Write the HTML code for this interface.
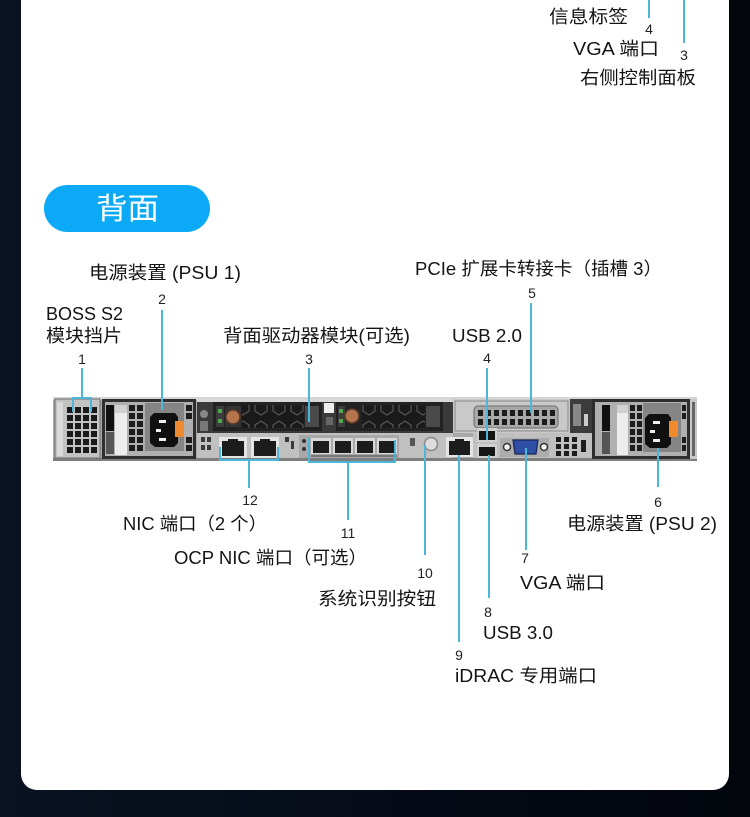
<!DOCTYPE html>
<html><head><meta charset="utf-8"><style>
html,body{margin:0;padding:0;}
body{width:750px;height:817px;overflow:hidden;background:linear-gradient(90deg,#0a1322 0%,#050b17 50%,#02050c 100%);position:relative;}
.card{position:absolute;left:21px;top:-30px;width:708px;height:820px;background:#fff;border-radius:16px;}
svg{position:absolute;left:0;top:0;}
.t{font-family:"Liberation Sans","Noto Sans CJK SC",sans-serif;font-size:18px;fill:#141414;}
.n{font-family:"Liberation Sans","Noto Sans CJK SC",sans-serif;font-size:14px;fill:#222;text-anchor:middle;}
.l{stroke:#4ab6da;stroke-width:2;fill:none;}
</style></head><body>
<div class="card"></div>
<svg width="750" height="817" viewBox="0 0 750 817" xmlns="http://www.w3.org/2000/svg">
<defs>
<pattern id="hx" x="0" y="0" width="18" height="22" patternUnits="userSpaceOnUse">
<rect width="18" height="22" fill="#1a1a1a"/>
<polygon points="9,3 15,7 15,15 9,19 3,15 3,7" fill="none" stroke="#555" stroke-width="1.2"/>
</pattern>
</defs>

<!-- top labels -->
<text class="t" x="549" y="23" font-size="19" textLength="79" lengthAdjust="spacingAndGlyphs">信息标签</text>
<text class="n" x="649" y="34">4</text>
<text class="t" x="573" y="55" font-size="19" textLength="86" lengthAdjust="spacingAndGlyphs">VGA 端口</text>
<text class="n" x="684" y="60">3</text>
<text class="t" x="580" y="84" font-size="19" textLength="116" lengthAdjust="spacingAndGlyphs">右侧控制面板</text>
<path class="l" d="M649 0 V18 M684 0 V43"/>

<!-- button -->
<rect x="44" y="185" width="166" height="47" rx="23.5" fill="#0ba9f6"/>
<text x="96" y="219" font-family="'Liberation Sans','Noto Sans CJK SC',sans-serif" font-size="30" fill="#fff" textLength="63" lengthAdjust="spacingAndGlyphs">背面</text>

<!-- rear labels top -->
<text class="t" x="89" y="279" textLength="152" lengthAdjust="spacingAndGlyphs">电源装置 (PSU 1)</text>
<text class="n" x="162" y="304">2</text>
<text class="t" x="46" y="320" textLength="77" lengthAdjust="spacingAndGlyphs">BOSS S2</text>
<text class="t" x="46" y="342" textLength="76" lengthAdjust="spacingAndGlyphs">模块挡片</text>
<text class="t" x="223" y="342" textLength="187" lengthAdjust="spacingAndGlyphs">背面驱动器模块(可选)</text>
<text class="n" x="82" y="364">1</text>
<text class="n" x="309" y="364">3</text>
<text class="t" x="415" y="275" textLength="247" lengthAdjust="spacingAndGlyphs">PCIe 扩展卡转接卡（插槽 3）</text>
<text class="n" x="532" y="298">5</text>
<text class="t" x="452" y="342" textLength="70" lengthAdjust="spacingAndGlyphs">USB 2.0</text>
<text class="n" x="487" y="363">4</text>

<!-- rear labels bottom -->
<text class="n" x="250" y="505">12</text>
<text class="t" x="123" y="530" textLength="144" lengthAdjust="spacingAndGlyphs">NIC 端口（2 个）</text>
<text class="n" x="348" y="538">11</text>
<text class="t" x="174" y="564" textLength="193" lengthAdjust="spacingAndGlyphs">OCP NIC 端口（可选）</text>
<text class="n" x="425" y="578">10</text>
<text class="t" x="318" y="605" textLength="118" lengthAdjust="spacingAndGlyphs">系统识别按钮</text>
<text class="n" x="658" y="507">6</text>
<text class="t" x="567" y="530" textLength="150" lengthAdjust="spacingAndGlyphs">电源装置 (PSU 2)</text>
<text class="n" x="525" y="563">7</text>
<text class="t" x="520" y="589" textLength="85" lengthAdjust="spacingAndGlyphs">VGA 端口</text>
<text class="n" x="488" y="617">8</text>
<text class="t" x="483" y="639" textLength="70" lengthAdjust="spacingAndGlyphs">USB 3.0</text>
<text class="n" x="459" y="660">9</text>
<text class="t" x="455" y="682" textLength="142" lengthAdjust="spacingAndGlyphs">iDRAC 专用端口</text>

<!-- server chassis -->
<g>
<rect x="53" y="397" width="644" height="64" fill="#a8a8a8"/>
<rect x="53" y="397" width="644" height="3" fill="#d4d4d4"/>
<rect x="53" y="458" width="644" height="3" fill="#7e7e7e"/>

<!-- BOSS blank -->
<rect x="55" y="399" width="45" height="59" fill="#c2c2c2" stroke="#6d6d6d" stroke-width="1"/>
<rect x="57" y="402" width="6" height="54" fill="#dadada"/>
<g fill="#1a1a1a">
<rect x="67" y="407" width="6" height="6"/><rect x="75" y="407" width="6" height="6"/><rect x="83" y="407" width="6" height="6"/><rect x="91" y="407" width="6" height="6"/>
<rect x="67" y="415" width="6" height="6"/><rect x="75" y="415" width="6" height="6"/><rect x="83" y="415" width="6" height="6"/><rect x="91" y="415" width="6" height="6"/>
<rect x="67" y="423" width="6" height="6"/><rect x="75" y="423" width="6" height="6"/><rect x="83" y="423" width="6" height="6"/><rect x="91" y="423" width="6" height="6"/>
<rect x="67" y="431" width="6" height="6"/><rect x="75" y="431" width="6" height="6"/><rect x="83" y="431" width="6" height="6"/><rect x="91" y="431" width="6" height="6"/>
<rect x="67" y="439" width="6" height="6"/><rect x="75" y="439" width="6" height="6"/><rect x="83" y="439" width="6" height="6"/><rect x="91" y="439" width="6" height="6"/>
<rect x="67" y="447" width="6" height="6"/><rect x="75" y="447" width="6" height="6"/><rect x="83" y="447" width="6" height="6"/><rect x="91" y="447" width="6" height="6"/>
</g>

<!-- PSU 1 -->
<rect x="102" y="399" width="94" height="60" fill="#2e2e2e"/>
<rect x="105" y="402" width="88" height="54" fill="#b0b0b0"/>
<rect x="106" y="405" width="8" height="26" fill="#111"/>
<rect x="106" y="432" width="8" height="22" fill="#555"/>
<rect x="115" y="405" width="12" height="50" fill="#ececec"/>
<rect x="115" y="405" width="12" height="8" fill="#d0d0d0"/>
<g fill="#1c1c1c">
<rect x="129" y="405" width="6" height="6"/><rect x="137" y="405" width="6" height="6"/>
<rect x="129" y="413" width="6" height="6"/><rect x="137" y="413" width="6" height="6"/>
<rect x="129" y="421" width="6" height="6"/><rect x="137" y="421" width="6" height="6"/>
<rect x="129" y="429" width="6" height="6"/><rect x="137" y="429" width="6" height="6"/>
<rect x="129" y="437" width="6" height="6"/><rect x="137" y="437" width="6" height="6"/>
<rect x="129" y="445" width="6" height="6"/><rect x="137" y="445" width="6" height="6"/>
<rect x="186" y="405" width="6" height="6"/><rect x="186" y="413" width="6" height="6"/>
<rect x="186" y="437" width="6" height="6"/><rect x="186" y="445" width="6" height="6"/>
</g>
<rect x="145" y="403" width="39" height="48" fill="#858585"/>
<polygon points="154,413 175,413 178,417 178,443 174,447 155,447 150,443 150,417" fill="#101010"/>
<rect x="159" y="420" width="7" height="3" fill="#eee"/>
<rect x="156" y="429" width="5" height="3" fill="#eee"/>
<rect x="159" y="438" width="7" height="3" fill="#eee"/>
<rect x="175" y="421" width="9" height="16" fill="#f08a2e"/>

<!-- middle section -->
<rect x="197" y="399" width="256" height="34" fill="#3a3a3a"/>
<rect x="197" y="399" width="256" height="3" fill="#d8d8d8"/>
<circle cx="204" cy="414" r="4" fill="#888"/>
<rect x="200" y="421" width="8" height="10" fill="#777"/>
<!-- drive 1 -->
<rect x="213" y="402" width="109" height="29" fill="#222"/>
<rect x="216" y="406" width="8" height="21" fill="#3c3c3c"/>
<rect x="218" y="409" width="4" height="4" fill="#4fa84f"/>
<rect x="218" y="419" width="4" height="4" fill="#4fa84f"/>
<rect x="225" y="406" width="16" height="21" fill="#333"/>
<circle cx="233" cy="417" r="7" fill="#b5744c" stroke="#5a3a26" stroke-width="1.5"/>
<rect x="242" y="405" width="62" height="23" fill="url(#hx)"/>
<rect x="305" y="406" width="14" height="21" fill="#4a4a4a"/>
<!-- between -->
<rect x="324" y="403" width="10" height="10" fill="#eee"/>
<rect x="326" y="417" width="7" height="8" fill="#666"/>
<!-- drive 2 -->
<rect x="336" y="402" width="107" height="29" fill="#222"/>
<rect x="338" y="406" width="7" height="21" fill="#3c3c3c"/>
<rect x="339" y="409" width="4" height="4" fill="#4fa84f"/>
<rect x="339" y="419" width="4" height="4" fill="#4fa84f"/>
<circle cx="352" cy="416" r="7" fill="#b5744c" stroke="#5a3a26" stroke-width="1.5"/>
<rect x="362" y="405" width="63" height="23" fill="url(#hx)"/>
<rect x="426" y="406" width="14" height="21" fill="#4a4a4a"/>

<!-- middle lower panel -->
<rect x="197" y="433" width="256" height="25" fill="#c0c0c0"/>
<g fill="#3a3a3a">
<rect x="201" y="437" width="4" height="5"/><rect x="207" y="437" width="4" height="5"/>
<rect x="201" y="445" width="4" height="5"/><rect x="207" y="445" width="4" height="5"/>
<rect x="285" y="437" width="4" height="5"/><rect x="291" y="441" width="3" height="8"/>
</g>
<!-- NIC ports -->
<rect x="219" y="437" width="28" height="21" fill="#e4e4e4"/>
<rect x="222" y="441" width="22" height="15" fill="#1c1c1c"/>
<rect x="228" y="439" width="10" height="3" fill="#1c1c1c"/>
<rect x="251" y="437" width="28" height="21" fill="#e4e4e4"/>
<rect x="254" y="441" width="22" height="15" fill="#1c1c1c"/>
<rect x="260" y="439" width="10" height="3" fill="#1c1c1c"/>
<!-- OCP -->
<rect x="299" y="435" width="100" height="23" fill="#a8a8a8"/>
<circle cx="304" cy="441" r="2" fill="#333"/><circle cx="304" cy="449" r="2" fill="#333"/>
<rect x="311" y="438" width="20" height="16" fill="#d8d8d8"/><rect x="313" y="441" width="16" height="12" fill="#1c1c1c"/>
<rect x="333" y="438" width="20" height="16" fill="#d8d8d8"/><rect x="335" y="441" width="16" height="12" fill="#1c1c1c"/>
<rect x="355" y="438" width="20" height="16" fill="#d8d8d8"/><rect x="357" y="441" width="16" height="12" fill="#1c1c1c"/>
<rect x="377" y="438" width="20" height="16" fill="#d8d8d8"/><rect x="379" y="441" width="16" height="12" fill="#1c1c1c"/>
<rect x="311" y="455" width="86" height="2" fill="#777"/>
<!-- ID button -->
<rect x="410" y="438" width="5" height="8" fill="#555"/>
<circle cx="431" cy="444" r="6.5" fill="#dcdcdc" stroke="#888" stroke-width="1.5"/>
<!-- iDRAC -->
<rect x="446" y="437" width="27" height="20" fill="#e4e4e4"/>
<rect x="449" y="441" width="21" height="14" fill="#1c1c1c"/>
<rect x="455" y="439" width="9" height="3" fill="#1c1c1c"/>

<!-- riser -->
<rect x="453" y="399" width="117" height="34" fill="#c9c9c9"/>
<rect x="455" y="401" width="113" height="30" fill="none" stroke="#8a8a8a" stroke-width="1"/>
<rect x="474" y="406" width="84" height="22" rx="4" fill="#a8a8a8" stroke="#6a6a6a" stroke-width="1"/>
<g fill="#1c1c1c">
<rect x="478" y="410" width="5" height="6"/><rect x="486" y="410" width="5" height="6"/><rect x="494" y="410" width="5" height="6"/><rect x="502" y="410" width="5" height="6"/><rect x="510" y="410" width="5" height="6"/><rect x="518" y="410" width="5" height="6"/><rect x="526" y="410" width="5" height="6"/><rect x="534" y="410" width="5" height="6"/><rect x="542" y="410" width="5" height="6"/><rect x="550" y="410" width="5" height="6"/>
<rect x="478" y="419" width="5" height="6"/><rect x="486" y="419" width="5" height="6"/><rect x="494" y="419" width="5" height="6"/><rect x="502" y="419" width="5" height="6"/><rect x="510" y="419" width="5" height="6"/><rect x="518" y="419" width="5" height="6"/><rect x="526" y="419" width="5" height="6"/><rect x="534" y="419" width="5" height="6"/><rect x="542" y="419" width="5" height="6"/><rect x="550" y="419" width="5" height="6"/>
</g>
<rect x="570" y="399" width="22" height="34" fill="#3c3c3c"/>
<rect x="573" y="404" width="8" height="22" fill="#888"/>
<rect x="584" y="414" width="4" height="12" fill="#ccc"/>
<!-- lower right panel -->
<rect x="473" y="433" width="119" height="25" fill="#c0c0c0"/>
<rect x="477" y="428" width="20" height="14" fill="#d0d0d0"/>
<rect x="479" y="431" width="16" height="9" fill="#151515"/>
<rect x="477" y="444" width="20" height="14" fill="#d0d0d0"/>
<rect x="479" y="447" width="16" height="9" fill="#151515"/>
<rect x="500" y="438" width="49" height="19" fill="#acacac"/>
<circle cx="507" cy="447" r="3.5" fill="#f4f4f4" stroke="#333" stroke-width="1.5"/>
<circle cx="544" cy="447" r="3.5" fill="#f4f4f4" stroke="#333" stroke-width="1.5"/>
<polygon points="513,440 538,440 536,454 515,454" fill="#2f4fa6" stroke="#1a2550" stroke-width="1.2"/>
<g fill="#1c1c1c">
<rect x="556" y="437" width="5" height="5"/><rect x="564" y="437" width="5" height="5"/><rect x="572" y="437" width="5" height="5"/>
<rect x="556" y="444" width="5" height="5"/><rect x="564" y="444" width="5" height="5"/><rect x="572" y="444" width="5" height="5"/>
<rect x="556" y="451" width="5" height="5"/><rect x="564" y="451" width="5" height="5"/><rect x="572" y="451" width="5" height="5"/>
<rect x="581" y="440" width="5" height="12"/>
</g>

<!-- PSU 2 -->
<rect x="592" y="399" width="98" height="60" fill="#2e2e2e"/>
<rect x="595" y="402" width="92" height="54" fill="#b0b0b0"/>
<rect x="602" y="405" width="8" height="26" fill="#111"/>
<rect x="602" y="432" width="8" height="22" fill="#555"/>
<rect x="617" y="405" width="11" height="50" fill="#ececec"/>
<rect x="617" y="405" width="11" height="8" fill="#d0d0d0"/>
<g fill="#1c1c1c">
<rect x="630" y="405" width="5" height="6"/><rect x="637" y="405" width="5" height="6"/>
<rect x="630" y="413" width="5" height="6"/><rect x="637" y="413" width="5" height="6"/>
<rect x="630" y="421" width="5" height="6"/><rect x="637" y="421" width="5" height="6"/>
<rect x="630" y="429" width="5" height="6"/><rect x="637" y="429" width="5" height="6"/>
<rect x="630" y="437" width="5" height="6"/><rect x="637" y="437" width="5" height="6"/>
<rect x="630" y="445" width="5" height="6"/><rect x="637" y="445" width="5" height="6"/>
<rect x="682" y="405" width="4" height="6"/><rect x="682" y="413" width="4" height="6"/>
<rect x="682" y="437" width="4" height="6"/><rect x="682" y="445" width="4" height="6"/>
</g>
<rect x="643" y="403" width="38" height="49" fill="#858585"/>
<polygon points="649,414 668,414 671,418 671,444 667,448 650,448 645,444 645,418" fill="#101010"/>
<rect x="653" y="421" width="7" height="3" fill="#eee"/>
<rect x="650" y="430" width="5" height="3" fill="#eee"/>
<rect x="653" y="439" width="7" height="3" fill="#eee"/>
<rect x="669" y="421" width="9" height="16" fill="#f08a2e"/>
<rect x="690" y="399" width="7" height="60" fill="#c8c8c8"/>
<rect x="692" y="402" width="3" height="54" fill="#666"/>
</g>

<!-- leader lines -->
<path class="l" d="M82 368 V398 M73 412 V398 H91 V412"/>
<path class="l" d="M162 310 V410"/>
<path class="l" d="M309 368 V422"/>
<path class="l" d="M531 303 V413"/>
<path class="l" d="M487 368 V440"/>
<path class="l" d="M220 447 V460 H278 V447 M249 460 V488"/>
<path class="l" d="M309 438 V462 H395 V440 M348 462 V520"/>
<path class="l" d="M425 445 V555"/>
<path class="l" d="M459 455 V642"/>
<path class="l" d="M489 455 V598"/>
<path class="l" d="M526 448 V550"/>
<path class="l" d="M658 448 V487"/>
</svg>
</body></html>
